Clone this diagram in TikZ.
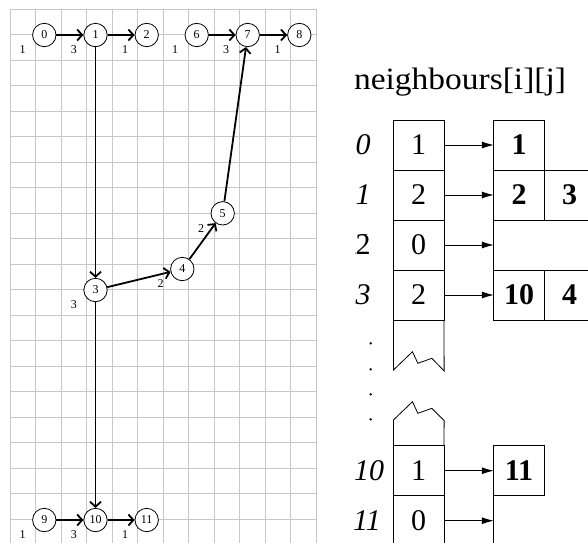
\documentclass[tikz,border=0pt]{standalone}
\usepackage{fontspec}
\setmainfont{Liberation Serif}
\usepackage{graphicx}
\usetikzlibrary{arrows.meta}

\newcommand{\bigtxt}{\fontsize{30}{36}\selectfont}

\begin{document}
\begin{tikzpicture}[x=1pt, y=-1pt,
    gridline/.style={draw=black!22, line width=0.8pt},
    vert/.style={circle, draw, fill=white, line width=0.8pt, minimum size=23.4pt, inner sep=0pt, font=\fontsize{12}{14}\selectfont},
    wt/.style={inner sep=0pt, font=\fontsize{12}{14}\selectfont},
    arc/.style={line width=1.8pt, -{Straight Barb[length=5pt,width=11pt]}},
    cell/.style={rectangle, draw, line width=0.8pt, minimum width=50.5pt, minimum height=50pt, inner sep=0pt, outer sep=0pt, font=\bigtxt},
    rowlab/.style={inner sep=0pt, font=\bigtxt\itshape},
    ptr/.style={line width=0.8pt, -{Latex[length=12pt,width=7pt]}}]

\clip (0,0) rectangle (588,542);
\fill[white] (0,0) rectangle (588,542);

% Rejilla
	\foreach \i in {0,...,12}
		\draw[gridline] ({10+25.5*\i},9.3) -- ({10+25.5*\i},560);
	\foreach \j in {0,...,21}
		\draw[gridline] (10,{9.3+25.5*\j}) -- (316,{9.3+25.5*\j});

% Grafo
	\foreach \n/\x/\y/\w in {0/44.3/35/1, 1/95.5/35/3, 2/146.7/35/1, 6/196.7/35/1, 7/247.7/35/3, 8/299.3/35/1,
			3/95.5/290/3, 4/182.3/269/2, 5/222.7/213.3/2, 9/44.3/520/1, 10/95.5/520/3, 11/146.7/520/1}
	{
		\node[vert] (n\n) at (\x,\y) {\n};
		\node[wt] (w\n) at ([shift={(-21.6,15)}]n\n.center) {\w};
	}

	\foreach \a/\b in {0/1, 1/2, 6/7, 7/8, 1/3, 3/4, 4/5, 5/7, 3/10, 9/10, 10/11}
		\draw[arc] (n\a) -- (n\b);

% Tabla
\node (title) at (460,82) {\fontsize{31}{37}\selectfont\scalebox{1.08}[1]{neighbours[i][j]}};

	\foreach \r/\y/\v/\lx in {0/145/1/363, 1/195/2/363, 2/245/0/363, 3/295/2/363, 10/470.7/1/369, 11/520.7/0/367}
	{
		\node[cell] (a\r) at (418.7,\y) {\v};
		\node[rowlab] (r\r) at (\lx,\y) {\r};
	}
	\node[inner sep=0pt, font=\bigtxt, fill=white] (r2) at (363,245) {2};

	\draw[line width=0.8pt] (a3.south west) -- ++(0,50) -- ++(19,-18.3) -- ++(5.4,11.6) -- ++(14,-5) -- ++(12.3,12.7) -- (a3.south east);
	\draw[line width=0.8pt] (a10.north west) -- ++(0,-25.7) -- ++(19,-18.3) -- ++(5.4,11.6) -- ++(14,-5) -- ++(12.3,12.4) -- (a10.north east);

	\foreach \y in {343.3, 369.3, 394.3, 419.3}
		\fill (370.7,\y) circle (1.3pt);

	\node[cell, font=\bigtxt\bfseries] (b0) at (519,145) {1};
	\node[cell, font=\bigtxt\bfseries] (b1) at (519,195) {2};
	\node[cell, font=\bigtxt\bfseries] (c1) at (569.5,195) {3};
	\node[cell, font=\bigtxt\bfseries] (b3) at (519,295) {10};
	\node[cell, font=\bigtxt\bfseries] (c3) at (569.5,295) {4};
	\node[cell, font=\bigtxt\bfseries] (b10) at (519,470.7) {11};

	\draw[line width=0.8pt] (b1.south west) -- (b3.north west);
	\draw[line width=0.8pt] (b10.south west) -- ++(0,60);
	\coordinate (e2) at (b1.south west |- a2.east);
	\coordinate (e11) at (b10.south west |- a11.east);

	\foreach \r/\t in {a0/b0.west, a1/b1.west, a2/e2, a3/b3.west, a10/b10.west, a11/e11}
		\draw[ptr] (\r.east) -- (\t);
\end{tikzpicture}
\end{document}
